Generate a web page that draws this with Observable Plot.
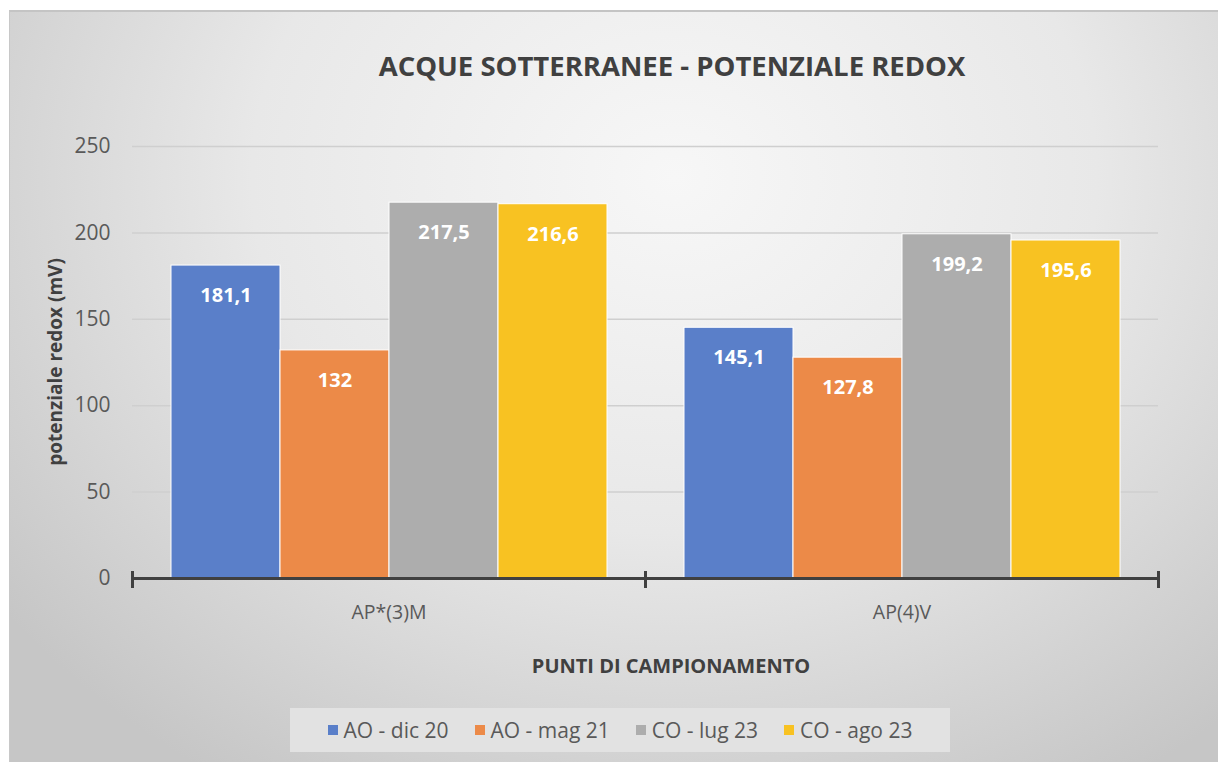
<!DOCTYPE html>
<html>
<head>
<meta charset="utf-8">
<script src="https://cdn.jsdelivr.net/npm/d3@7"></script>
<script src="https://cdn.jsdelivr.net/npm/@observablehq/plot@0.6"></script>
<style>
  html, body { margin: 0; padding: 0; background: #fff; width: 1218px; height: 762px; overflow: hidden; font-family: "Open Sans", sans-serif; }
  #frame { position: absolute; left: 9px; top: 10px; width: 1209px; height: 752px;
    border-top: 2px solid #c4c4c4; border-left: 1px solid #c8c8c8; box-sizing: border-box;
    background: radial-gradient(ellipse 70% 95% at 55% 22%, #f7f7f7 0%, #e8e8e8 50%, #c6c6c6 100%); }
  #title { position: absolute; left: 0; width: 1344px; top: 47px; text-align: center; font-size: 27.5px; font-weight: 700; color: #404040; }
  #plot { position: absolute; left: 0; top: 0; }
  #ylabel { position: absolute; left: 55px; top: 362px; transform: translate(-50%, -50%) rotate(-90deg); white-space: nowrap; font-size: 19px; font-weight: 700; color: #404040; }
  #xlabel { position: absolute; left: 0; width: 1342px; top: 652px; text-align: center; font-size: 20px; font-weight: 700; color: #404040; }
  #legend { position: absolute; left: 290px; top: 708px; width: 660px; height: 44px; background: #e2e2e2; display: flex; align-items: center; justify-content: center; gap: 26px; font-size: 21px; color: #595959; }
  .item { display: flex; align-items: center; gap: 6px; }
  .sw { width: 10px; height: 10px; display: inline-block; }
</style>
</head>
<body>
<div id="frame"></div>
<div id="title">ACQUE SOTTERRANEE - POTENZIALE REDOX</div>
<div id="plot"></div>
<div id="ylabel">potenziale redox (mV)</div>
<div id="xlabel">PUNTI DI CAMPIONAMENTO</div>
<div id="legend"></div>
<script>
const points = ["AP*(3)M", "AP(4)V"];
const series = ["AO - dic 20", "AO - mag 21", "CO - lug 23", "CO - ago 23"];
const colors = ["#5a7fc9", "#ec8a48", "#adadad", "#f8c222"];
const valuesAP3M = [181.1, 132, 217.5, 216.6];
const valuesAP4V = [145.1, 127.8, 199.2, 195.6];
const yTicks = [0, 50, 100, 150, 200, 250];

const data = [];
series.forEach((s, i) => {
  data.push({point: points[0], series: s, value: valuesAP3M[i]});
  data.push({point: points[1], series: s, value: valuesAP4V[i]});
});
const fmt = v => String(v).replace(".", ",");

const chart = Plot.plot({
  width: 1218,
  height: 700,
  marginLeft: 132,
  marginRight: 60,
  marginTop: 146,
  marginBottom: 122,
  style: {background: "transparent", fontFamily: "'Open Sans', sans-serif"},
  fx: {domain: points, padding: 0},
  x: {domain: series, paddingInner: 0, paddingOuter: 0.332, axis: null},
  y: {domain: [0, 250]},
  color: {domain: series, range: colors},
  marks: [
    Plot.gridY(yTicks, {stroke: "#cfcfcf", strokeOpacity: 1, strokeWidth: 1.5}),
    Plot.barY(data, {fx: "point", x: "series", y: "value", fill: "series", stroke: "#ffffff", strokeWidth: 1}),
    Plot.text(data, {fx: "point", x: "series", y: "value", text: d => fmt(d.value), dy: 30, fill: "white", fontWeight: "bold", fontSize: 20}),
    Plot.ruleY([0], {stroke: "#404040", strokeWidth: 3}),
    Plot.frame({anchor: "left", stroke: "#404040", strokeWidth: 3, insetTop: 426, insetBottom: -8}),
    Plot.frame({anchor: "right", stroke: "#404040", strokeWidth: 3, insetTop: 426, insetBottom: -8}),
    Plot.axisY(yTicks, {tickSize: 0, tickPadding: 22, fontSize: 21, fill: "#595959", label: null}),
    Plot.axisFx({anchor: "bottom", tickSize: 0, tickPadding: 27, fontSize: 19.5, fill: "#595959", label: null})
  ]
});
document.getElementById("plot").appendChild(chart);

const legend = document.getElementById("legend");
series.forEach((s, i) => {
  const it = document.createElement("div");
  it.className = "item";
  const sw = document.createElement("span");
  sw.className = "sw";
  sw.style.background = colors[i];
  const t = document.createElement("span");
  t.textContent = s;
  it.appendChild(sw); it.appendChild(t);
  legend.appendChild(it);
});
</script>
</body>
</html>
